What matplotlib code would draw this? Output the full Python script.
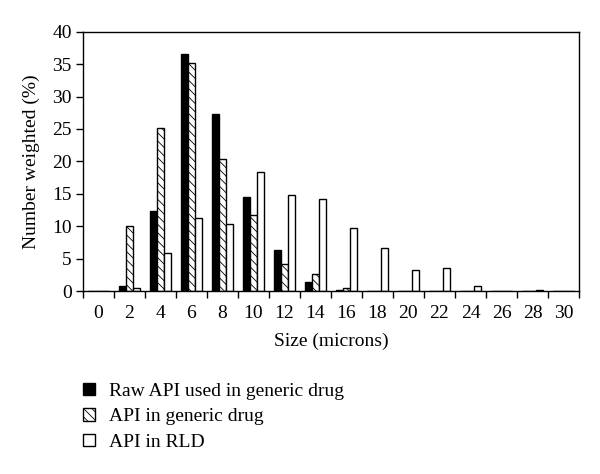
import matplotlib.pyplot as plt
import numpy as np

# Size classes (microns) and number-weighted distributions (%)
sizes = ['0', '2', '4', '6', '8', '10', '12', '14', '16', '18', '20', '22', '24', '26', '28', '30']
raw_api = [0, 0.7, 12.4, 36.5, 27.3, 14.5, 6.4, 1.4, 0.2, 0, 0, 0, 0, 0, 0, 0]
api_generic = [0, 10.0, 25.2, 35.2, 20.3, 11.7, 4.2, 2.6, 0.5, 0, 0, 0, 0, 0, 0, 0]
api_rld = [0, 0.4, 5.9, 11.3, 10.4, 18.4, 14.85, 14.2, 9.7, 6.7, 3.25, 3.6, 0.75, 0, 0.2, 0]

series_labels = ['Raw API used in generic drug', 'API in generic drug', 'API in RLD']

plt.rcParams['font.family'] = ['Liberation Serif', 'DejaVu Serif']
plt.rcParams['hatch.linewidth'] = 0.6

fs = 14

fig = plt.figure(figsize=(6.0, 4.74), dpi=100)
ax = fig.add_axes([0.138, 0.386, 0.827, 0.547])

x = np.arange(len(sizes))
w = 0.222

ax.bar(x - w, raw_api, w, color='black', edgecolor='black', linewidth=1.0,
       label=series_labels[0])
ax.bar(x, api_generic, w, color='white', edgecolor='black', linewidth=1.0,
       hatch='\\\\\\\\', label=series_labels[1])
ax.bar(x + w, api_rld, w, color='white', edgecolor='black', linewidth=1.0,
       label=series_labels[2])

ax.set_xlim(-0.5, len(sizes) - 0.5)
ax.set_ylim(0, 40)
ax.set_yticks(np.arange(0, 41, 5))

# ticks at the class boundaries, labels centred on the classes
ax.set_xticks(np.arange(-0.5, len(sizes), 1.0))
ax.set_xticklabels([])
ax.set_xticks(x, minor=True)
ax.set_xticklabels(sizes, minor=True)
ax.tick_params(axis='x', which='minor', length=0, pad=10, labelsize=fs)
ax.tick_params(axis='x', which='major', direction='out', length=5, width=1.0)
ax.tick_params(axis='y', direction='out', length=5, width=1.0, labelsize=fs, pad=3)

for s in ax.spines.values():
    s.set_linewidth(1.0)

ax.set_xlabel('Size (microns)', fontsize=fs, labelpad=8)
ax.set_ylabel('Number weighted (%)', fontsize=fs, labelpad=9)

fig.legend(loc='upper left', bbox_to_anchor=(0.138, 0.193), frameon=False,
           fontsize=fs, handlelength=0.62, handleheight=0.62, handletextpad=0.72,
           labelspacing=0.43, borderpad=0, borderaxespad=0)

plt.savefig('out.png', dpi=100)
plt.close()
